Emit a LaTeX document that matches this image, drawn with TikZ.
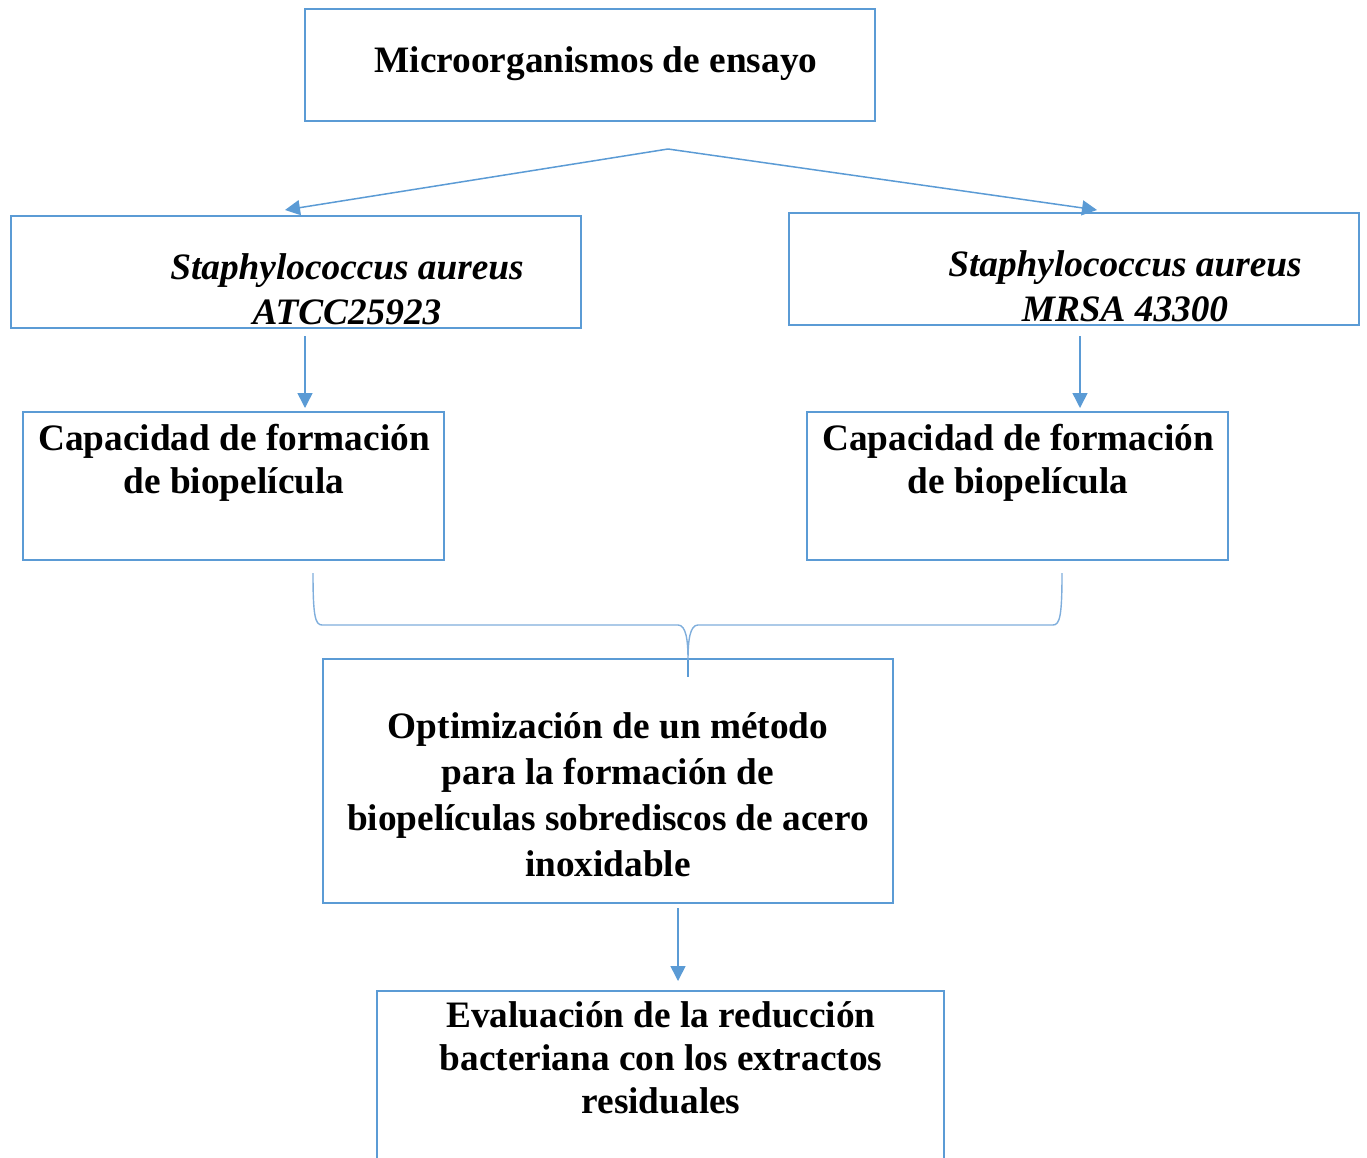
\documentclass[tikz,border=0pt]{standalone}
\usepackage{fontspec}
\setmainfont{Liberation Serif}
\usetikzlibrary{arrows.meta}
\definecolor{boxblue}{HTML}{5B9BD5}
\definecolor{bracecol}{HTML}{7FAEDC}
\tikzset{
  box/.style={draw=boxblue, line width=2.8pt, rectangle, inner sep=0pt},
  txt/.style={font=\bfseries\fontsize{37.3}{44.5}\selectfont, align=center, inner sep=0pt},
  itxt/.style={font=\bfseries\itshape\fontsize{37.3}{45}\selectfont, align=center, inner sep=0pt},
  conn/.style={draw=boxblue, line width=1.5pt, -{Triangle[length=15pt,width=15pt]}},
  bracel/.style={draw=bracecol, line width=1.4pt}
}
\begin{document}
\begin{tikzpicture}[x=1pt,y=-1pt]
\clip (0,0) rectangle (1367,1157);
% boxes
\node[box, minimum width=570pt, minimum height=112pt] (top) at (590,65) {};
\node[box, minimum width=570pt, minimum height=112pt] (sa1) at (296,272) {};
\node[box, minimum width=570pt, minimum height=112pt] (sa2) at (1074,269) {};
\node[box, minimum width=421pt, minimum height=148pt] (cap1) at (233.5,486) {};
\node[box, minimum width=421pt, minimum height=148pt] (cap2) at (1017.5,486) {};
\node[box, minimum width=570pt, minimum height=244pt] (opt) at (608,781) {};
\node[box, minimum width=567pt, minimum height=220pt] (eval) at (660.5,1101) {};
% texts
\node[txt] (ttop) at (596,64) {Microorganismos de ensayo};
\node[itxt] (tsa1) at (347,289) {Staphylococcus aureus\\ATCC25923};
\node[itxt] (tsa2) at (1125,286) {Staphylococcus aureus\\MRSA 43300};
\node[txt, font=\bfseries\fontsize{37.3}{43.5}\selectfont] (tcap1) at (234,463) {Capacidad de formación\\de biopelícula};
\node[txt, font=\bfseries\fontsize{37.3}{43.5}\selectfont] (tcap2) at (1018,463) {Capacidad de formación\\de biopelícula};
\node[txt, font=\bfseries\fontsize{37.3}{46}\selectfont] (topt) at (608,795) {Optimización de un método\\para la formación de\\biopelículas sobrediscos de acero\\inoxidable};
\node[txt, font=\bfseries\fontsize{37.3}{43}\selectfont] (teval) at (661,1058) {Evaluación de la reducción\\bacteriana con los extractos\\residuales};
% connectors
\coordinate (fork) at (668,149);
\coordinate (t1) at (285,210);
\coordinate (t2) at (1097,210);
\draw[conn] (fork) -- (t1);
\draw[conn] (fork) -- (t2);
\coordinate (a1s) at (305,336);
\coordinate (a1e) at (305,408);
\coordinate (a2s) at (1080,336);
\coordinate (a2e) at (1080,408);
\draw[conn] (a1s) -- (a1e);
\draw[conn] (a2s) -- (a2e);
\coordinate (a3s) at (678,908);
\coordinate (a3e) at (678,981);
\draw[conn] (a3s) -- (a3e);
% brace
\coordinate (bl) at (313,573);
\coordinate (br) at (1062,573);
\coordinate (bp) at (688,660);
\coordinate (bt) at (688,677);
\draw[bracel] (bl) .. controls (313,615) and (315,625) .. (322,625)
  -- (678,625) .. controls (686,625) and (688,640) .. (bp)
  .. controls (688,640) and (690,625) .. (698,625)
  -- (1053,625) .. controls (1060,625) and (1062,615) .. (br);
\draw[draw=boxblue, line width=1.6pt] (bp) -- (bt);
\end{tikzpicture}
\end{document}
